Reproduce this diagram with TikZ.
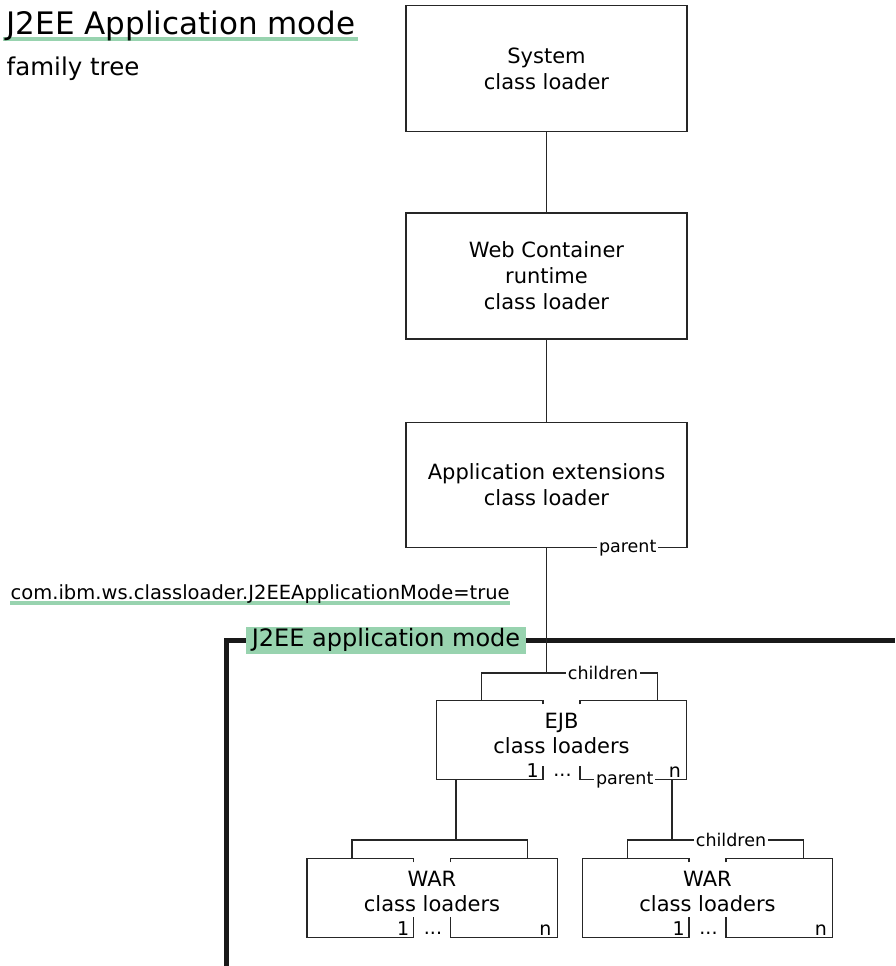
\documentclass[tikz,border=0pt]{standalone}
\usepackage{fontspec}
\setmainfont{DejaVu Sans}
\usetikzlibrary{calc}
\usetikzlibrary{positioning}
\usetikzlibrary{backgrounds}
\definecolor{mintgreen}{RGB}{152,211,175}

% outline of a loader box with a gap at top and bottom
\newcommand{\splitbox}[2]{%
  \draw ($(#1.north)+(-18.5,-4)$) -- ($(#1.north)+(-18.5,0)$) -- (#1.north west)
    -- (#1.south west) -- ($(#1.south)+(-18.5,0)$) -- ++(0,#2);
  \draw ($(#1.north)+(18.5,-4)$) -- ($(#1.north)+(18.5,0)$) -- (#1.north east)
    -- (#1.south east) -- ($(#1.south)+(18.5,0)$) -- ++(0,#2);
  \node (#1one) [counttext, anchor=south east] at ($(#1.south)+(-21,1)$) {1};
  \node (#1dots) [counttext, anchor=base] at ($(#1.south)+(1,3)$) {...};
  \node (#1n) [counttext, anchor=south east] at ($(#1.south east)+(-4,1)$) {n};
}

\begin{document}
\begin{tikzpicture}[x=1pt, y=1pt, node distance=80pt,
  line width=1.4pt, draw=black!85,
  loaderbox/.style={
    % the big boxes
    draw, minimum width=281pt, minimum height=126pt,
    align=center, font=\fontsize{21}{26}\selectfont},
  splitnode/.style={minimum width=249pt, minimum height=78pt, inner sep=0pt},
  boxtext/.style={align=center, font=\fontsize{21}{25}\selectfont},
  tag/.style={fill=white, inner sep=2pt, font=\fontsize{17.5}{20}\selectfont},
  counttext/.style={inner sep=1pt, font=\fontsize{19}{20}\selectfont}]

  \useasboundingbox (0,0) rectangle (895,-966);

  \node (title) [anchor=base west, inner sep=0pt, font=\fontsize{31}{34}\selectfont] at (6,-35) {J2EE Application mode};
  \node (family) [anchor=base west, inner sep=0pt, font=\fontsize{24.5}{28}\selectfont] at (6,-75) {family tree};
  \node (prop) [anchor=base west, inner sep=0pt, font=\fontsize{19.5}{22}\selectfont] at (10,-599) {com.ibm.ws.classloader.J2EEApplicationMode=true};
  \begin{scope}[on background layer]
    \draw[mintgreen, line width=4pt] ($(title.base west)+(-3,-4)$) -- ($(title.base east)+(2,-4)$);
    \draw[mintgreen, line width=4pt] ($(prop.base west)+(0,-4)$) -- ($(prop.base east)+(0,-4)$);
  \end{scope}

  \node (sys) [loaderbox] at (546.5,-68.5) {System\\ class loader};
  \node (webc) [loaderbox, below = 80pt of sys] {Web Container\\ runtime\\ class loader};
  \node (appx) [loaderbox, below = 82pt of webc, minimum height=125pt] {Application extensions\\ class loader};
  \draw (sys) -- (webc);
  \draw (webc) -- (appx);

  % J2EE application mode frame
  \coordinate (framecorner) at (226,-640);
  \draw[line width=5pt, black!90] (226,-966) -- (framecorner) -- (895,-640);
  \node (modelabel) [fill=mintgreen, minimum width=280pt, minimum height=27pt, inner sep=0pt,
    font=\fontsize{24}{28}\selectfont] at (386,-640) {J2EE application mode};

  \coordinate (fork1) at (546.5,-673);
  \draw (appx.south) -- (fork1);
  \node (appxparent) [tag] at ($(appx.south east)+(-60,0)$) {parent};

  % EJB loaders
  \node (ejb) [splitnode] at (561.5,-740) {};
  \node (ejbtext) [boxtext] at ($(ejb.center)+(0,7)$) {EJB\\ class loaders};
  \splitbox{ejb}{14}
  \draw ($(ejb.north west)+(45,0)$) |- (fork1) -| ($(ejb.north east)+(-29,0)$);
  \node (ejbkids) [tag] at (603,-673) {children};
  \node (ejbparent) [tag] at ($(ejb.south east)+(-62,0)$) {parent};

  % WAR loaders
  \node (war1) [splitnode] at (432,-898) {};
  \node (war1text) [boxtext] at ($(war1.center)+(0,7)$) {WAR\\ class loaders};
  \splitbox{war1}{21}
  \node (war2) [splitnode] at (707.5,-898) {};
  \node (war2text) [boxtext] at ($(war2.center)+(0,7)$) {WAR\\ class loaders};
  \splitbox{war2}{21}

  \coordinate (fork2) at (456,-840);
  \coordinate (fork3) at (672,-840);
  \draw (ejb.south -| fork2) -- (fork2);
  \draw ($(war1.north west)+(45,0)$) |- (fork2) -| ($(war1.north east)+(-30,0)$);
  \draw (ejb.south -| fork3) -- (fork3);
  \draw ($(war2.north west)+(45,0)$) |- (fork3) -| ($(war2.north east)+(-29,0)$);
  \node (war2kids) [tag] at (731,-840) {children};
\end{tikzpicture}
\end{document}
